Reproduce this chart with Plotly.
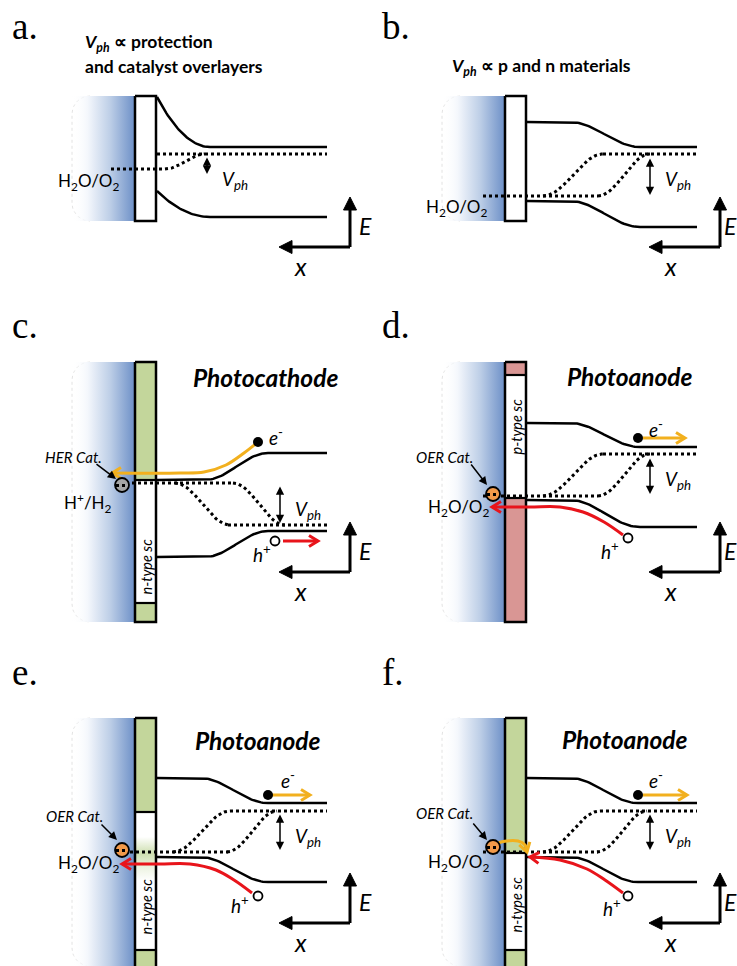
import numpy as np
import plotly.graph_objects as go

W, H = 737, 966

# ---------------- diagram content ----------------
PANEL_LABELS = ["a.", "b.", "c.", "d.", "e.", "f."]
PANEL_TITLES = [
    ["<b><i>V</i><sub><i>ph</i></sub> ∝ protection</b>", "<b>and catalyst overlayers</b>"],
    ["<b><i>V</i><sub><i>ph</i></sub> ∝ p and n materials</b>"],
    ["<b><i>Photocathode</i></b>"],
    ["<b><i>Photoanode</i></b>"],
    ["<b><i>Photoanode</i></b>"],
    ["<b><i>Photoanode</i></b>"],
]
REDOX_LABELS = ["H<sub>2</sub>O/O<sub>2</sub>", "H<sub>2</sub>O/O<sub>2</sub>",
                "H<sup>+</sup>/H<sub>2</sub>", "H<sub>2</sub>O/O<sub>2</sub>",
                "H<sub>2</sub>O/O<sub>2</sub>", "H<sub>2</sub>O/O<sub>2</sub>"]
CATALYST_LABELS = [None, None, "HER Cat.", "OER Cat.", "OER Cat.", "OER Cat."]
SC_LABELS = [None, None, "n-type sc", "p-type sc", "n-type sc", "n-type sc"]

# band edges (screen px, y downward): surface side -> bulk side
CB_SURFACE = [97, 122, 480, 423, 778, 778]
CB_BULK = [147, 147, 453, 447, 803, 803]
VB_SURFACE = [191, 201, 557, 500, 857, 857]
VB_BULK = [217, 227, 531, 527, 882, 882]
EF_SURFACE = [169, 196, 483, 496, 852, 852]
EF_BULK = [154, 154, 525, 454, 811, 811]

# ---------------- layout geometry ----------------
PANEL_X = [0, 370, 0, 370, 0, 370]
LABEL_Y = [26, 26, 325, 325, 672, 672]
BOX_Y = [(96, 221), (96, 221), (362, 622), (362, 622), (718, 980), (718, 980)]
GREEN, PINK = "#c3d69b", "#d99694"
BOX_LAYERS = [
    [], [],
    [(362, 480, GREEN), (603, 622, GREEN)],
    [(362, 375, PINK), (498, 622, PINK)],
    [(718, 812, GREEN), (950, 980, GREEN)],
    [(718, 853, GREEN), (950, 980, GREEN)],
]
BEND_X = [(157, 210), (200, 270), (205, 268), (200, 270), (200, 268), (200, 268)]
EF_START = [111, 113, 120, 113, 118, 113]
EF_SURF_END = [165, 228, 233, 228, 228, 228]
EF_BULK_START = [157, 233, 228, 233, 230, 230]
EF_CURVES = [[(165, 205)], [(173, 233), (228, 280)], [(175, 230), (233, 285)],
             [(173, 233), (228, 280)], [(173, 230), (227, 277)], [(173, 230), (227, 277)]]
BAND_END = 327
VPH_X = [207, 280, 280, 280, 280, 280]
VPH_Y = [(156, 174), (157, 195), (485, 523), (457, 494), (813, 850), (813, 850)]
VPH_LABEL_Y = [180, 180, 510, 480, 837, 837]
AXIS_Y = [247, 247, 572, 572, 923, 923]
E_LABEL_X = [357, 352, 357, 352, 357, 352]
REDOX_POS = [(88, 182), (86, 208), (88, 503), (88, 508), (88, 864), (88, 863)]
TITLE_POS = [[(83, 43), (83, 66)], [(80, 67)], [(265, 377)], [(630 - 370, 376)],
             [(258, 740)], [(625 - 370, 739)]]
SC_LABEL_Y = [None, None, 567, 427, 907, 905]

E_DOT = [None, None, (258, 442), (268, 438), (268, 795), (268, 795)]
H_DOT = [None, None, (275, 541), (258, 538), (258, 896), (258, 896)]
E_LABEL = [None, None, (267, 436), (277, 428), (279, 779), (277, 779)]
H_LABEL = [None, None, (262, 553), (240, 550), (240, 904), (242, 907)]
CAT_POS = [None, None, (122, 485), (123, 494), (122, 850), (123, 847)]
CAT_COLOR = [None, None, "#a6a6a6", "#f29a4a", "#f29a4a", "#f29a4a"]
CAT_LABEL_POS = [None, None, (73, 457), (74, 457), (74, 816), (74, 813)]
CAT_POINTER = [None, None, ((95, 463), (116, 479)), ((100, 463), (117, 485)),
               ((100, 823), (117, 840)), ((102, 822), (117, 840))]

YELLOW, RED = "#f2b01e", "#e8141b"
YELLOW_PATHS = [
    [], [],
    [[(258, 442), (244, 453), (226, 465), (204, 472), (180, 473), (112, 473)]],
    [[(273, 438), (315, 438)]],
    [[(272, 795), (310, 795)]],
    [[(273, 795), (317, 795)],
     [(124, 846), (131, 842), (148, 841), (155, 845), (157, 852)]],
]
RED_PATHS = [
    [], [],
    [[(283, 541), (318, 541)]],
    [[(253, 535), (234, 522), (213, 512), (190, 507), (160, 507), (122, 507)]],
    [[(252, 893), (234, 880), (216, 870), (190, 864), (160, 864), (122, 864)]],
    [[(253, 893), (235, 880), (217, 869), (190, 860), (160, 857)]],
]

SANS = "Lato, 'Open Sans', sans-serif"
SERIF = "'Liberation Serif', 'DejaVu Serif', serif"

fig = go.Figure()


def line(xs, ys, color="black", width=2.5, dash=None, shape="linear"):
    fig.add_trace(go.Scatter(x=list(xs), y=list(ys), mode="lines",
                             line=dict(color=color, width=width, dash=dash, shape=shape),
                             hoverinfo="skip", showlegend=False))


def poly(xs, ys, fill, edge=None, width=0, gradient=None):
    kw = dict(fillgradient=gradient) if gradient else dict(fillcolor=fill)
    fig.add_trace(go.Scatter(x=list(xs), y=list(ys), mode="lines", fill="toself",
                             line=dict(color=edge or "rgba(0,0,0,0)", width=width),
                             hoverinfo="skip", showlegend=False, **kw))


def text(x, y, s, size, family=SANS, color="black", xanchor="center", angle=0, align="center"):
    fig.add_annotation(x=x, y=y, text=s, showarrow=False, xanchor=xanchor, yanchor="middle",
                       textangle=angle, align=align,
                       font=dict(family=family, size=size, color=color))


def bend(x0, x1, y0, y1, kind="sig", n=40):
    t = np.linspace(0, 1, n)
    if kind == "quad":
        f = 1 - (1 - t) ** 2
    else:
        f = (1 - np.cos(np.pi * t)) / 2
    return x0 + (x1 - x0) * t, y0 + (y1 - y0) * f


def chevron(pts, color, width=3, length=9, half=5.5):
    (xa, ya), (xb, yb) = pts[-2], pts[-1]
    d = np.array([xb - xa, yb - ya], float)
    d /= np.linalg.norm(d)
    n = np.array([-d[1], d[0]])
    tip = np.array([xb, yb])
    p1 = tip - d * length + n * half
    p2 = tip - d * length - n * half
    line([p1[0], tip[0], p2[0]], [p1[1], tip[1], p2[1]], color=color, width=width)


def filled_head(tip, direction, length=13, half=6.5):
    d = np.array(direction, float)
    d /= np.linalg.norm(d)
    n = np.array([-d[1], d[0]])
    tip = np.array(tip, float)
    b = tip - d * length
    pts = [tip, b + n * half, b - n * half, tip]
    poly([p[0] for p in pts], [p[1] for p in pts], "black", edge="black", width=1)


for i in range(6):
    ox = PANEL_X[i]
    top, bot = BOX_Y[i]
    X = lambda v: ox + v

    # electrolyte: faint rounded outline and horizontal blue gradient
    r = 18
    ang = np.linspace(np.pi / 2, np.pi, 12)
    ox_l = X(72)
    xs = list(ox_l + r + r * np.cos(ang)) + list(ox_l + r + r * np.cos(ang[::-1]))
    ys = list(top + r - r * np.sin(ang)) + list(min(bot, H) - r + r * np.sin(ang[::-1]))
    line(xs, ys, color="#e2e2e2", width=1, dash="dot")
    poly([X(72), X(135), X(135), X(72), X(72)], [top, top, bot, bot, top], None,
         gradient=dict(type="horizontal",
                       colorscale=[[0, "rgba(255,255,255,0)"], [0.25, "rgba(244,247,252,1)"],
                                   [0.6, "rgb(190,207,231)"], [1, "rgb(108,143,199)"]]))

    # protection layer / semiconductor slab
    x0b, x1b = X(135), X(156)
    poly([x0b, x1b, x1b, x0b, x0b], [top, top, bot, bot, top], "white")
    if i == 4:
        poly([x0b, x1b, x1b, x0b, x0b], [812, 812, 950, 950, 812], None,
             gradient=dict(type="vertical", start=812, stop=950,
                           colorscale=[[0, "white"], [0.18, "white"], [0.3, "rgb(206,223,176)"],
                                       [0.4, "rgb(236,243,225)"], [0.5, "white"], [1, "white"]]))
    for (ya, yb, col) in BOX_LAYERS[i]:
        poly([x0b, x1b, x1b, x0b, x0b], [ya, ya, yb, yb, ya], col)
    for (ya, yb, col) in BOX_LAYERS[i]:
        for yy in (ya, yb):
            if top < yy < bot:
                line([x0b, x1b], [yy, yy], width=2.2)
    line([x0b, x1b, x1b, x0b, x0b], [top, top, bot, bot, top], width=2.5)

    if SC_LABELS[i]:
        text(X(145.5), SC_LABEL_Y[i], "<i>" + SC_LABELS[i] + "</i>", 14.5, angle=-90)

    # conduction / valence bands
    kind = "quad" if i == 0 else "sig"
    bx0, bx1 = BEND_X[i]
    for ys_, yb_ in ((CB_SURFACE[i], CB_BULK[i]), (VB_SURFACE[i], VB_BULK[i])):
        cx, cy = bend(X(bx0), X(bx1), ys_, yb_, kind)
        line([X(157)] + list(cx) + [X(BAND_END)], [ys_] + list(cy) + [yb_], width=2.5)

    # Fermi levels (dark / illuminated)
    line([X(EF_START[i]), X(EF_SURF_END[i])], [EF_SURFACE[i]] * 2, width=3, dash="dot")
    line([X(EF_BULK_START[i]), X(BAND_END)], [EF_BULK[i]] * 2, width=3, dash="dot")
    for (c0, c1) in EF_CURVES[i]:
        cx, cy = bend(X(c0), X(c1), EF_SURFACE[i], EF_BULK[i], "sig")
        line(cx, cy, width=3, dash="dot")

    # photovoltage arrow
    y_hi, y_lo = VPH_Y[i]
    fig.add_annotation(x=X(VPH_X[i]), y=y_lo, ax=X(VPH_X[i]), ay=y_hi, xref="x", yref="y",
                       axref="x", ayref="y", text="", showarrow=True, arrowside="end+start",
                       arrowhead=2, startarrowhead=2, arrowsize=1.1, startarrowsize=1.1,
                       arrowwidth=1.5, arrowcolor="black")
    text(X(VPH_X[i] + 13), VPH_LABEL_Y[i], "<i>V</i><sub><i>ph</i></sub>", 19, xanchor="left")

    # energy / position axes
    ay0 = AXIS_Y[i]
    line([X(350), X(350)], [ay0, ay0 - 38], width=3)
    filled_head((X(350), ay0 - 50), (0, -1))
    line([X(350), X(292)], [ay0, ay0], width=3)
    filled_head((X(279), ay0), (-1, 0))
    text(X(E_LABEL_X[i]), ay0 - 21, "<i>E</i>", 23, xanchor="left")
    text(X(300), ay0 + 19, "<i>x</i>", 25)

    # labels
    text(X(10), LABEL_Y[i], PANEL_LABELS[i], 37, family=SERIF, xanchor="left")
    for (tx, ty), s in zip(TITLE_POS[i], PANEL_TITLES[i]):
        if i < 2:
            text(X(tx), ty, s, 17.5, xanchor="left")
        else:
            text(X(tx), ty, s, 24.5)
    rx, ry = REDOX_POS[i]
    text(X(rx), ry, REDOX_LABELS[i], 17)

    # carriers, catalyst and charge-transfer arrows
    for path in YELLOW_PATHS[i]:
        pts = [(X(a), b) for a, b in path]
        line([p[0] for p in pts], [p[1] for p in pts], color=YELLOW, width=3, shape="spline")
        chevron(pts, YELLOW)
    for path in RED_PATHS[i]:
        pts = [(X(a), b) for a, b in path]
        line([p[0] for p in pts], [p[1] for p in pts], color=RED, width=3, shape="spline")
        chevron(pts, RED)
    if CAT_POS[i]:
        cx, cy = CAT_POS[i]
        fig.add_trace(go.Scatter(x=[X(cx)], y=[cy], mode="markers",
                                 marker=dict(size=14, color=CAT_COLOR[i],
                                             line=dict(color="black", width=1.8)),
                                 hoverinfo="skip", showlegend=False))
        line([X(cx - 6), X(cx + 6)], [cy + 0.5] * 2, width=3, dash="dot")
        (px0, py0), (px1, py1) = CAT_POINTER[i]
        fig.add_annotation(x=X(px1), y=py1, ax=X(px0), ay=py0, xref="x", yref="y",
                           axref="x", ayref="y", text="", showarrow=True, arrowhead=2,
                           arrowsize=1.1, arrowwidth=1.5, arrowcolor="black")
        lx, ly = CAT_LABEL_POS[i]
        text(X(lx), ly, "<i>" + CATALYST_LABELS[i] + "</i>", 15)
    if E_DOT[i]:
        ex, ey = E_DOT[i]
        fig.add_trace(go.Scatter(x=[X(ex)], y=[ey], mode="markers",
                                 marker=dict(size=10, color="black"),
                                 hoverinfo="skip", showlegend=False))
        hx, hy = H_DOT[i]
        fig.add_trace(go.Scatter(x=[X(hx)], y=[hy], mode="markers",
                                 marker=dict(size=9, color="white",
                                             line=dict(color="black", width=1.8)),
                                 hoverinfo="skip", showlegend=False))
        lx, ly = E_LABEL[i]
        text(X(lx), ly, "<i>e</i><sup>-</sup>", 19, xanchor="left")
        lx, ly = H_LABEL[i]
        text(X(lx), ly, "<i>h</i><sup>+</sup>", 19)

fig.update_layout(
    width=W, height=H, margin=dict(l=0, r=0, t=0, b=0),
    paper_bgcolor="white", plot_bgcolor="white", showlegend=False, hovermode=False,
    xaxis=dict(range=[0, W], visible=False, fixedrange=True),
    yaxis=dict(range=[H, 0], visible=False, fixedrange=True),
)
fig.write_html("out.html")
